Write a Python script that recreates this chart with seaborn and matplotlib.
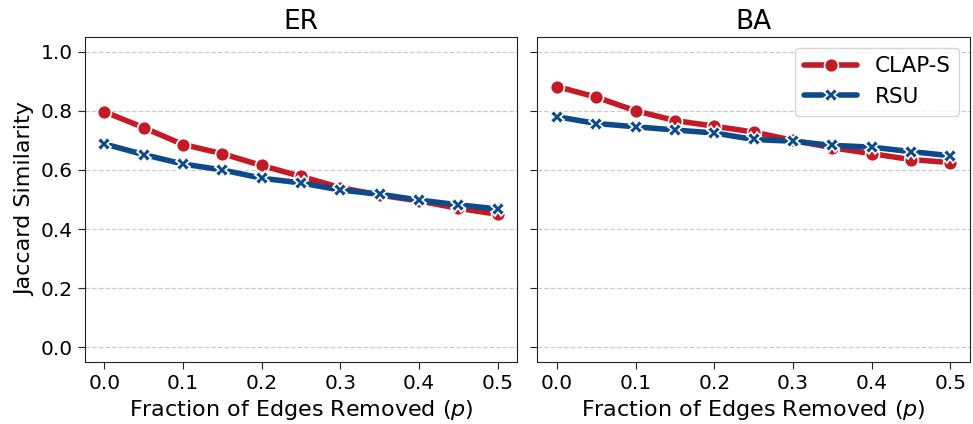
import seaborn as sns
import matplotlib.pyplot as plt
import pandas as pd
import numpy as np

# fraction of edges removed
p = [0.0, 0.05, 0.1, 0.15, 0.2, 0.25, 0.3, 0.35, 0.4, 0.45, 0.5]

er_clap = [0.797, 0.743, 0.686, 0.655, 0.615, 0.578, 0.540, 0.515, 0.495, 0.470, 0.450]
er_rsu = [0.688, 0.652, 0.620, 0.600, 0.572, 0.556, 0.532, 0.518, 0.498, 0.482, 0.468]
ba_clap = [0.882, 0.846, 0.800, 0.767, 0.748, 0.728, 0.700, 0.675, 0.655, 0.635, 0.625]
ba_rsu = [0.780, 0.757, 0.746, 0.735, 0.725, 0.703, 0.697, 0.683, 0.677, 0.662, 0.648]

graphs = ["ER", "BA"]
methods = ["CLAP-S", "RSU"]

rows = []
for g, clap, rsu in [("ER", er_clap, er_rsu), ("BA", ba_clap, ba_rsu)]:
    for x, c, r in zip(p, clap, rsu):
        rows.append((g, "CLAP-S", x, c))
        rows.append((g, "RSU", x, r))
df = pd.DataFrame(rows, columns=["graph", "method", "p", "jaccard"])

sns.set_style("ticks")
plt.rcParams.update({"text.color": "black", "axes.labelcolor": "black",
                     "xtick.color": "black", "ytick.color": "black"})
palette = {"CLAP-S": "#c41a26", "RSU": "#0b4a8b"}
markers = {"CLAP-S": "o", "RSU": "X"}

fig, axes = plt.subplots(1, 2, figsize=(9.73, 4.24), dpi=100, sharey=True)
for ax, g in zip(axes, graphs):
    sns.lineplot(data=df[df.graph == g], x="p", y="jaccard", hue="method",
                 style="method", markers=markers, dashes=False, palette=palette,
                 hue_order=methods, style_order=methods,
                 linewidth=4, markersize=10, markeredgecolor="white",
                 markeredgewidth=1.2, ax=ax, legend=(g == "BA"))
    ax.set_title(g, fontsize=19)
    ax.set_xlabel("Fraction of Edges Removed ($p$)", fontsize=16)
    ax.set_ylabel("Jaccard Similarity", fontsize=16)
    ax.set_ylim(-0.05, 1.05)
    ax.set_xlim(-0.025, 0.525)
    ax.set_xticks([0.0, 0.1, 0.2, 0.3, 0.4, 0.5])
    ax.set_yticks([0.0, 0.2, 0.4, 0.6, 0.8, 1.0])
    ax.tick_params(labelsize=14.5, length=5, color="#222222")
    ax.yaxis.grid(True, linestyle="--", color="#cccccc", linewidth=0.9)
    ax.set_axisbelow(True)
    for s in ax.spines.values():
        s.set_color("#222222")

leg = axes[1].legend(loc="upper right", fontsize=15.5, title=None, handlelength=2.5)
for h in leg.get_lines():
    h.set_linewidth(4)

fig.subplots_adjust(left=0.087, right=0.997, top=0.913, bottom=0.146, wspace=0.046)
fig.savefig("out.png")
